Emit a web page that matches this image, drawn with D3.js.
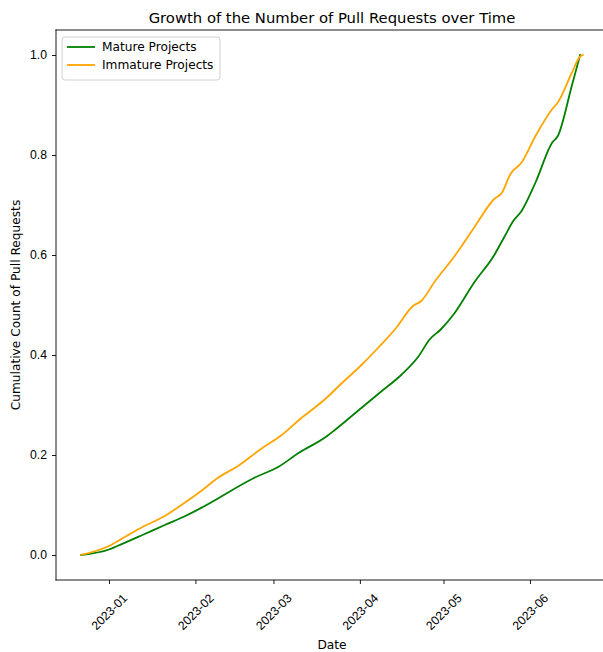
<!DOCTYPE html>
<html>
<head>
<meta charset="utf-8">
<script src="https://cdn.jsdelivr.net/npm/d3@7"></script>
<style>
  html, body { margin: 0; background: #fff; overflow: hidden; }
  svg { display: block; font-family: "DejaVu Sans", sans-serif; }
</style>
</head>
<body>
<svg id="chart" width="603" height="652"></svg>
<script>
// values
const matureDates = ["2022-12-22", "2023-01-01", "2023-01-04", "2023-01-13", "2023-01-21", "2023-01-28",
  "2023-02-04", "2023-02-22", "2023-03-03", "2023-03-10", "2023-03-20", "2023-03-23", "2023-03-31",
  "2023-04-08", "2023-04-16", "2023-04-22", "2023-04-26", "2023-04-30", "2023-05-05", "2023-05-12",
  "2023-05-19", "2023-05-23", "2023-05-26", "2023-05-29", "2023-06-03", "2023-06-09", "2023-06-11",
  "2023-06-16", "2023-06-19"];
const matureValues = [0, 0.011, 0.018, 0.040, 0.060, 0.077,
  0.097, 0.154, 0.177, 0.204, 0.237, 0.250, 0.287,
  0.324, 0.361, 0.397, 0.431, 0.451, 0.484, 0.545,
  0.598, 0.638, 0.668, 0.688, 0.745, 0.825, 0.838,
  0.938, 1.0];

const immatureDates = ["2022-12-22", "2023-01-01", "2023-01-07", "2023-01-13", "2023-01-21", "2023-01-28",
  "2023-02-04", "2023-02-09", "2023-02-16", "2023-02-25", "2023-03-04", "2023-03-11", "2023-03-14",
  "2023-03-20", "2023-03-25", "2023-04-01", "2023-04-08", "2023-04-14", "2023-04-20", "2023-04-23",
  "2023-04-28", "2023-05-05", "2023-05-12", "2023-05-19", "2023-05-22", "2023-05-25", "2023-05-29",
  "2023-06-03", "2023-06-09", "2023-06-11", "2023-06-16", "2023-06-19", "2023-06-20"];
const immatureValues = [0, 0.018, 0.037, 0.056, 0.078, 0.104,
  0.132, 0.154, 0.177, 0.214, 0.240, 0.274, 0.287,
  0.314, 0.341, 0.377, 0.417, 0.454, 0.498, 0.508,
  0.548, 0.598, 0.655, 0.711, 0.725, 0.762, 0.785,
  0.838, 0.892, 0.905, 0.964, 0.997, 1.0];

const seriesNames = ["Mature Projects", "Immature Projects"];
const seriesColors = ["green", "orange"];
const yTicks = [0.0, 0.2, 0.4, 0.6, 0.8, 1.0];
const xTickDates = ["2023-01-01", "2023-02-01", "2023-03-01", "2023-04-01", "2023-05-01", "2023-06-01"];

const parse = d3.utcParse("%Y-%m-%d");
const series = [
  matureDates.map((d, i) => ({ date: parse(d), value: matureValues[i] })),
  immatureDates.map((d, i) => ({ date: parse(d), value: immatureValues[i] }))
];

// the axes run past the right edge of the picture
const plotLeft = 56, plotRight = 608, plotTop = 30, plotBottom = 580;
const fontSize = 12.2;

const svg = d3.select("#chart");

// matplotlib style 5% margins
const allPts = series.flat();
const xExt = d3.extent(allPts, d => +d.date);
const xPad = (xExt[1] - xExt[0]) * 0.05;
const x = d3.scaleUtc()
  .domain([new Date(xExt[0] - xPad), new Date(xExt[1] + xPad)])
  .range([plotLeft, plotRight]);
const y = d3.scaleLinear()
  .domain([-0.05, 1.05])
  .range([plotBottom, plotTop]);

const fmt = d3.utcFormat("%Y-%m");

// lines
const line = d3.line()
  .curve(d3.curveMonotoneX)
  .x(d => x(d.date))
  .y(d => y(d.value));

svg.append("g")
  .selectAll("path")
  .data(series)
  .enter()
  .append("path")
  .attr("d", line)
  .attr("fill", "none")
  .attr("stroke", (d, i) => seriesColors[i])
  .attr("stroke-width", 1.8)
  .attr("stroke-linejoin", "round")
  .attr("stroke-linecap", "square");

// axes
const xAxis = svg.append("g")
  .attr("transform", `translate(0,${plotBottom})`)
  .call(d3.axisBottom(x)
    .tickValues(xTickDates.map(parse))
    .tickFormat(fmt)
    .tickSizeOuter(0)
    .tickSize(4)
    .tickPadding(4));

xAxis.selectAll("text")
  .attr("font-size", fontSize)
  .attr("fill", "#000")
  .attr("text-anchor", "middle")
  .attr("dy", null)
  .attr("y", null)
  .attr("dominant-baseline", "central")
  .attr("transform", "translate(0,32) rotate(-45)");

const yAxis = svg.append("g")
  .attr("transform", `translate(${plotLeft},0)`)
  .call(d3.axisLeft(y)
    .tickValues(yTicks)
    .tickFormat(d3.format(".1f"))
    .tickSizeOuter(0)
    .tickSize(4)
    .tickPadding(5));

yAxis.selectAll("text")
  .attr("font-size", fontSize)
  .attr("fill", "#000");

svg.selectAll(".domain").remove();
svg.selectAll(".tick line").attr("stroke", "#000").attr("stroke-width", 0.9);

// spines (left, top, bottom; the right one is off the picture)
const spines = [
  [plotLeft, plotTop, plotLeft, plotBottom],
  [plotLeft, plotTop, plotRight, plotTop],
  [plotLeft, plotBottom, plotRight, plotBottom]
];
svg.append("g")
  .selectAll("line")
  .data(spines)
  .enter()
  .append("line")
  .attr("x1", d => d[0])
  .attr("y1", d => d[1])
  .attr("x2", d => d[2])
  .attr("y2", d => d[3])
  .attr("stroke", "#000")
  .attr("stroke-width", 0.9)
  .attr("stroke-linecap", "square");

// titles
svg.append("text")
  .attr("x", (plotLeft + plotRight) / 2)
  .attr("y", 23)
  .attr("text-anchor", "middle")
  .attr("font-size", 14.8)
  .text("Growth of the Number of Pull Requests over Time");

svg.append("text")
  .attr("x", (plotLeft + plotRight) / 2)
  .attr("y", 649)
  .attr("text-anchor", "middle")
  .attr("font-size", fontSize)
  .text("Date");

svg.append("text")
  .attr("transform", `translate(20,${(plotTop + plotBottom) / 2}) rotate(-90)`)
  .attr("text-anchor", "middle")
  .attr("font-size", fontSize)
  .text("Cumulative Count of Pull Requests");

// legend
const legend = svg.append("g").attr("transform", "translate(62,37)");
legend.append("rect")
  .attr("width", 158)
  .attr("height", 43)
  .attr("rx", 3)
  .attr("fill", "#fff")
  .attr("fill-opacity", 0.8)
  .attr("stroke", "#d0d0d0");

const item = legend.selectAll(".item")
  .data(seriesNames)
  .enter()
  .append("g")
  .attr("class", "item")
  .attr("transform", (d, i) => `translate(0,${10 + i * 18})`);

item.append("line")
  .attr("x1", 5)
  .attr("x2", 33)
  .attr("stroke", (d, i) => seriesColors[i])
  .attr("stroke-width", 1.8);

item.append("text")
  .attr("x", 40)
  .attr("dy", "0.35em")
  .attr("font-size", fontSize)
  .text(d => d);
</script>
</body>
</html>
